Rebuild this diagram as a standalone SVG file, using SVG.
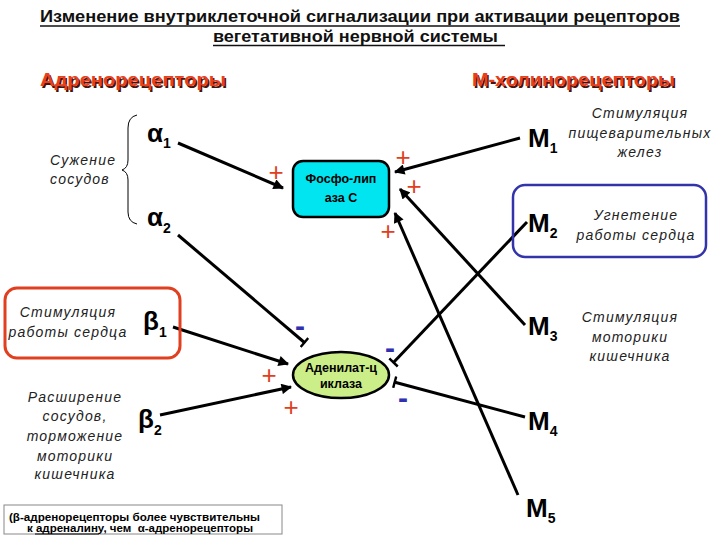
<svg xmlns="http://www.w3.org/2000/svg" width="720" height="540" viewBox="0 0 720 540">
<style>
.title{font-family:"Liberation Sans",Arial,sans-serif;font-weight:bold;font-size:16px;fill:#111}
.head{font-family:"Liberation Sans",Arial,sans-serif;font-weight:bold;font-size:18.5px}
.hs{fill:#4a1208}
.hr{fill:#e8401c}
.rec{font-family:"Liberation Sans",Arial,sans-serif;font-weight:bold;font-size:26px;fill:#000}
.sub{font-size:14px}
.it{font-family:"Liberation Sans",Arial,sans-serif;font-style:italic;font-size:14px;letter-spacing:1.2px;fill:#222}
.mid{text-anchor:middle}
.node{font-family:"Liberation Sans",Arial,sans-serif;font-weight:bold;font-size:12.5px;fill:#000;text-anchor:middle}
.note{font-family:"Liberation Sans",Arial,sans-serif;font-weight:bold;font-size:10.5px;fill:#000}
.plus{font-family:"Liberation Sans",Arial,sans-serif;font-size:26px;fill:#e04020;text-anchor:middle}
.minus{font-family:"Liberation Sans",Arial,sans-serif;font-weight:bold;font-size:30px;fill:#3030b0;text-anchor:middle}
.ln{stroke:#000;stroke-width:3;fill:none}
</style>
<defs>
<marker id="arr" viewBox="0 0 10 10" refX="9" refY="5" markerWidth="4" markerHeight="3.5" orient="auto" markerUnits="strokeWidth">
<path d="M0,0 L10,5 L0,10 z" fill="#000"/>
</marker>
<marker id="tee" viewBox="0 0 4 12" refX="3" refY="6" markerWidth="1.3" markerHeight="4" orient="auto" markerUnits="strokeWidth">
<rect x="1" y="0" width="2.5" height="12" fill="#000"/>
</marker>
</defs>

<g id="title">
<text class="title" x="40" y="22" textLength="640" lengthAdjust="spacingAndGlyphs">Изменение внутриклеточной сигнализации при активации рецепторов</text>
<line x1="40" y1="26" x2="680" y2="26" stroke="#111" stroke-width="1.5"/>
<text class="title" x="213" y="42" textLength="285" lengthAdjust="spacingAndGlyphs">вегетативной нервной системы</text>
<line x1="213" y1="45.5" x2="505" y2="45.5" stroke="#111" stroke-width="1.5"/>
</g>

<g id="headings">
<text class="head hs" x="41.5" y="87.5" textLength="186" lengthAdjust="spacingAndGlyphs">Адренорецепторы</text>
<text class="head hr" x="40" y="86" textLength="186" lengthAdjust="spacingAndGlyphs">Адренорецепторы</text>
<text class="head hs" x="473.5" y="87.5" textLength="203" lengthAdjust="spacingAndGlyphs">М-холинорецепторы</text>
<text class="head hr" x="472" y="86" textLength="203" lengthAdjust="spacingAndGlyphs">М-холинорецепторы</text>
</g>

<g id="connectors">
<line class="ln" x1="178" y1="143" x2="283" y2="188" marker-end="url(#arr)"/>
<line class="ln" x1="178" y1="235" x2="305" y2="343" marker-end="url(#tee)"/>
<line class="ln" x1="173" y1="327" x2="288" y2="364" marker-end="url(#arr)"/>
<line class="ln" x1="160" y1="415" x2="291" y2="387" marker-end="url(#arr)"/>
<line class="ln" x1="520" y1="138" x2="395" y2="172" marker-end="url(#arr)"/>
<line class="ln" x1="527" y1="222" x2="393" y2="363" marker-end="url(#tee)"/>
<line class="ln" x1="525" y1="325" x2="400" y2="189" marker-end="url(#arr)"/>
<line class="ln" x1="525" y1="417" x2="394" y2="382" marker-end="url(#tee)"/>
<line class="ln" x1="518" y1="495" x2="395" y2="213" marker-end="url(#arr)"/>
</g>

<g id="brace">
<path d="M137,115 Q128,117 128,128 L128,160 Q128,168 122,170 Q128,172 128,180 L128,212 Q128,222 137,224" fill="none" stroke="#000" stroke-width="1"/>
<text class="it" x="50" y="165">Сужение</text>
<text class="it" x="50" y="184">сосудов</text>
</g>

<g id="alpha1"><text class="rec" x="147" y="142">α<tspan class="sub" dy="6">1</tspan></text></g>
<g id="alpha2"><text class="rec" x="147" y="226">α<tspan class="sub" dy="7">2</tspan></text></g>

<g id="beta1">
<rect x="5" y="288" width="175" height="70" rx="12" fill="none" stroke="#e04020" stroke-width="3"/>
<text class="it mid" x="68" y="317">Стимуляция</text>
<text class="it mid" x="68" y="337">работы сердца</text>
<text class="rec" x="143" y="330">β<tspan class="sub" dy="7">1</tspan></text>
</g>

<g id="beta2">
<text class="it mid" x="75" y="402">Расширение</text>
<text class="it mid" x="75" y="421">сосудов,</text>
<text class="it mid" x="75" y="441">торможение</text>
<text class="it mid" x="75" y="461">моторики</text>
<text class="it mid" x="75" y="479">кишечника</text>
<text class="rec" x="138" y="428">β<tspan class="sub" dy="7">2</tspan></text>
</g>

<g id="plc">
<rect x="293" y="161" width="96" height="56" rx="10" fill="#00e5ef" stroke="#000" stroke-width="2.5"/>
<text class="node" x="341" y="183">Фосфо-лип</text>
<text class="node" x="341" y="202">аза С</text>
</g>

<g id="ac">
<ellipse cx="341" cy="375" rx="48" ry="23" fill="#ccee88" stroke="#000" stroke-width="2.5"/>
<text class="node" x="341" y="372">Аденилат-ц</text>
<text class="node" x="341" y="388">иклаза</text>
</g>

<g id="M1">
<text class="rec" x="528" y="147">M<tspan class="sub" dy="6">1</tspan></text>
<text class="it mid" x="640" y="118">Стимуляция</text>
<text class="it mid" x="640" y="138">пищеварительных</text>
<text class="it mid" x="640" y="157">желез</text>
</g>

<g id="M2">
<rect x="513" y="185" width="193" height="72" rx="12" fill="none" stroke="#3333aa" stroke-width="2.5"/>
<text class="rec" x="528" y="232">M<tspan class="sub" dy="6">2</tspan></text>
<text class="it mid" x="636" y="220">Угнетение</text>
<text class="it mid" x="636" y="240">работы сердца</text>
</g>

<g id="M3">
<text class="rec" x="528" y="335">M<tspan class="sub" dy="6">3</tspan></text>
<text class="it mid" x="630" y="322">Стимуляция</text>
<text class="it mid" x="630" y="342">моторики</text>
<text class="it mid" x="630" y="361">кишечника</text>
</g>

<g id="M4"><text class="rec" x="528" y="430">M<tspan class="sub" dy="6">4</tspan></text></g>
<g id="M5"><text class="rec" x="526" y="517">M<tspan class="sub" dy="6">5</tspan></text></g>

<g id="signs">
<text class="plus" x="276" y="181">+</text>
<text class="plus" x="403" y="166">+</text>
<text class="plus" x="414" y="195">+</text>
<text class="plus" x="388" y="240">+</text>
<text class="plus" x="269" y="384">+</text>
<text class="plus" x="291" y="416">+</text>
<text class="minus" x="300" y="336">-</text>
<text class="minus" x="390" y="358">-</text>
<text class="minus" x="403" y="408">-</text>
</g>

<g id="note">
<rect x="4" y="505" width="278" height="29" fill="#fff" stroke="#888" stroke-width="1"/>
<text class="note" x="9" y="521" textLength="251" lengthAdjust="spacingAndGlyphs">(β-адренорецепторы более чувствительны</text>
<text class="note" x="27" y="532" xml:space="preserve" textLength="226" lengthAdjust="spacingAndGlyphs">к адреналину, чем  α-адренорецепторы</text>
<line x1="35" y1="534" x2="99" y2="534" stroke="#000" stroke-width="1"/>
</g>
</svg>
